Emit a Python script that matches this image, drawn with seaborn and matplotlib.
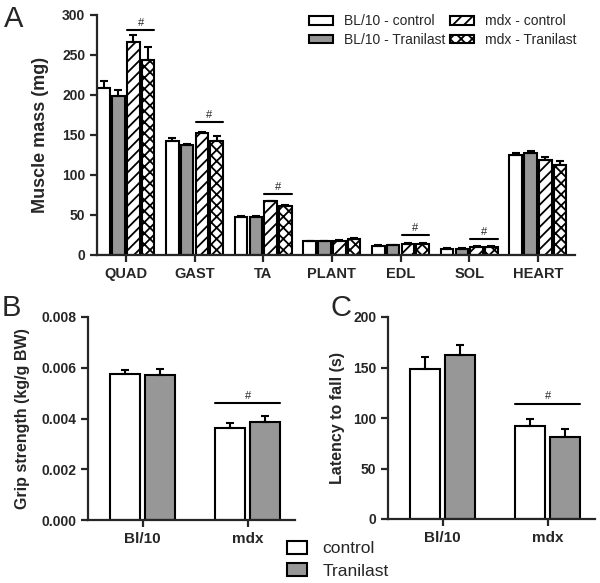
import numpy as np
import pandas as pd
import matplotlib
matplotlib.use("Agg")
import matplotlib.pyplot as plt
import seaborn as sns
from matplotlib.patches import Patch

# ---------------- data ----------------
muscles = ["QUAD", "GAST", "TA", "PLANT", "EDL", "SOL", "HEART"]
groups_a = ["BL/10 - control", "BL/10 - Tranilast", "mdx - control", "mdx - Tranilast"]
bl_ctrl = [209, 142, 48, 17, 11, 8, 125]
bl_ctrl_err = [8, 4.5, 1, 1, 1, 0.5, 2]
bl_tran = [199, 137, 48, 17, 12, 8, 128]
bl_tran_err = [7, 2, 1, 1, 1, 0.5, 2]
mdx_ctrl = [266, 153, 67, 18, 14, 10, 119]
mdx_ctrl_err = [8.5, 1, 1, 1, 1, 1, 3]
mdx_tran = [244, 142, 61, 20, 14, 10, 112]
mdx_tran_err = [16, 7, 2, 1, 1, 1, 5]
sig_muscles = ["QUAD", "GAST", "TA", "EDL", "SOL"]
sig_y_a = [281, 166, 76, 25, 20]

strains = ["Bl/10", "mdx"]
treatments = ["control", "Tranilast"]
grip_ctrl = [0.00574, 0.00364]
grip_ctrl_err = [0.00017, 0.0002]
grip_tran = [0.00571, 0.00387]
grip_tran_err = [0.00023, 0.00024]
lat_ctrl = [149, 92]
lat_ctrl_err = [11.7, 7.5]
lat_tran = [162, 81]
lat_tran_err = [10, 8]
sig_y_b = 0.0046
sig_y_c = 114

# ---------------- style ----------------
sns.set_style("ticks")
plt.rcParams["font.family"] = ["Liberation Sans", "DejaVu Sans"]
plt.rcParams["hatch.linewidth"] = 1.3
plt.rcParams["axes.linewidth"] = 1.6

GREY = "#979797"
fig = plt.figure(figsize=(6, 5.83), dpi=100)

def style_axes(ax, xlabelsize=10):
    sns.despine(ax=ax)
    ax.tick_params(axis="both", width=1.6, length=5, direction="out", labelsize=10)
    ax.tick_params(axis="x", labelsize=xlabelsize)
    for lab in ax.get_xticklabels() + ax.get_yticklabels():
        lab.set_fontweight("bold")

def add_errors(ax, patches, errs):
    xs = [p.get_x() + p.get_width() / 2 for p in patches]
    ys = [p.get_height() for p in patches]
    ax.errorbar(xs, ys, yerr=[np.zeros(len(errs)), errs], fmt="none",
                ecolor="black", elinewidth=1.5, capsize=3, capthick=1.5, zorder=3)

# ---------------- panel A ----------------
axA = fig.add_axes([97/600, 1-255/583, (575-97)/600, (255-15)/583])
dfA = pd.DataFrame({
    "muscle": muscles * 4,
    "group": sum([[g] * len(muscles) for g in groups_a], []),
    "value": bl_ctrl + bl_tran + mdx_ctrl + mdx_tran,
})
sns.barplot(data=dfA, x="muscle", y="value", hue="group", hue_order=groups_a,
            palette=["white", GREY, "white", "white"], edgecolor="black",
            linewidth=1.5, width=0.86, gap=0.15, errorbar=None, legend=False,
            saturation=1, ax=axA)
n = len(muscles)
bars = [axA.patches[h*n:(h+1)*n] for h in range(4)]
hatches = [None, None, "///", "xxx"]
for h in range(4):
    for p in bars[h]:
        if hatches[h]:
            p.set_hatch(hatches[h])
for h, errs in enumerate([bl_ctrl_err, bl_tran_err, mdx_ctrl_err, mdx_tran_err]):
    add_errors(axA, bars[h], errs)
for m, yv in zip(sig_muscles, sig_y_a):
    i = muscles.index(m)
    x0 = bars[2][i].get_x()
    x1 = bars[3][i].get_x() + bars[3][i].get_width()
    axA.plot([x0, x1], [yv, yv], color="black", lw=1.5)
    axA.text((x0 + x1) / 2, yv + 3, "#", ha="center", va="bottom", fontsize=8)
axA.set_xlim(-0.42, 6.54)
axA.set_ylim(0, 300)
axA.set_yticks(np.arange(0, 301, 50))
axA.set_xlabel("")
axA.set_ylabel("Muscle mass (mg)", fontsize=13, fontweight="bold", labelpad=9)
style_axes(axA, xlabelsize=10.5)
handlesA = [Patch(facecolor=c, edgecolor="black", linewidth=1.5, hatch=hh, label=g)
            for c, hh, g in zip(["white", GREY, "white", "white"], hatches, groups_a)]
fig.legend(handles=handlesA, loc="upper left", bbox_to_anchor=(309/600, 1-14/583),
           ncol=2, frameon=False, fontsize=10, handlelength=1.7, handleheight=0.6,
           handletextpad=0.8, columnspacing=0.35, labelspacing=0.35, borderpad=0,
           borderaxespad=0)

# ---------------- panels B & C ----------------
def panel(rect, ctrl, ctrl_err, tran, tran_err, sig_y, ylim, yticks, fmt, ylabel, labelpad):
    ax = fig.add_axes(rect)
    df = pd.DataFrame({
        "strain": strains * 2,
        "treatment": [treatments[0]] * 2 + [treatments[1]] * 2,
        "value": ctrl + tran,
    })
    sns.barplot(data=df, x="strain", y="value", hue="treatment", hue_order=treatments,
                palette=["white", GREY], edgecolor="black", linewidth=1.5,
                width=0.67, gap=0.15, errorbar=None, legend=False, saturation=1, ax=ax)
    b = [ax.patches[0:2], ax.patches[2:4]]
    add_errors(ax, b[0], ctrl_err)
    add_errors(ax, b[1], tran_err)
    x0 = b[0][1].get_x()
    x1 = b[1][1].get_x() + b[1][1].get_width()
    ax.plot([x0, x1], [sig_y, sig_y], color="black", lw=1.5)
    ax.text((x0 + x1) / 2, sig_y + ylim[1] * 0.012, "#", ha="center", va="bottom", fontsize=8)
    ax.set_xlim(-0.52, 1.45)
    ax.set_ylim(*ylim)
    ax.set_yticks(yticks)
    ax.set_yticklabels([fmt.format(t) for t in yticks])
    ax.set_xlabel("")
    ax.set_ylabel(ylabel, fontsize=11.5, fontweight="bold", labelpad=labelpad)
    style_axes(ax, xlabelsize=11)
    return ax

axB = panel([88/600, 1-520/583, (295-88)/600, (520-317)/583],
            grip_ctrl, grip_ctrl_err, grip_tran, grip_tran_err, sig_y_b,
            (0, 0.008), np.arange(0, 0.0081, 0.002), "{:.3f}", "Grip strength (kg/g BW)", 8)
axC = panel([388/600, 1-519/583, (595-388)/600, (519-317)/583],
            lat_ctrl, lat_ctrl_err, lat_tran, lat_tran_err, sig_y_c,
            (0, 200), np.arange(0, 201, 50), "{:.0f}", "Latency to fall (s)", 6)

handlesBC = [Patch(facecolor=c, edgecolor="black", linewidth=1.5, label=t)
             for c, t in zip(["white", GREY], treatments)]
fig.legend(handles=handlesBC, loc="upper left", bbox_to_anchor=(287/600, 1-541/583),
           frameon=False, fontsize=12.5, handlelength=1.15, handleheight=0.75,
           handletextpad=0.9, labelspacing=0.4, borderpad=0, borderaxespad=0)

# panel letters
fig.text(4/600, 1-5/583, "A", fontsize=21, va="top", ha="left")
fig.text(2/600, 1-294/583, "B", fontsize=21, va="top", ha="left")
fig.text(330/600, 1-294/583, "C", fontsize=21, va="top", ha="left")

fig.savefig("out.png", dpi=100)
